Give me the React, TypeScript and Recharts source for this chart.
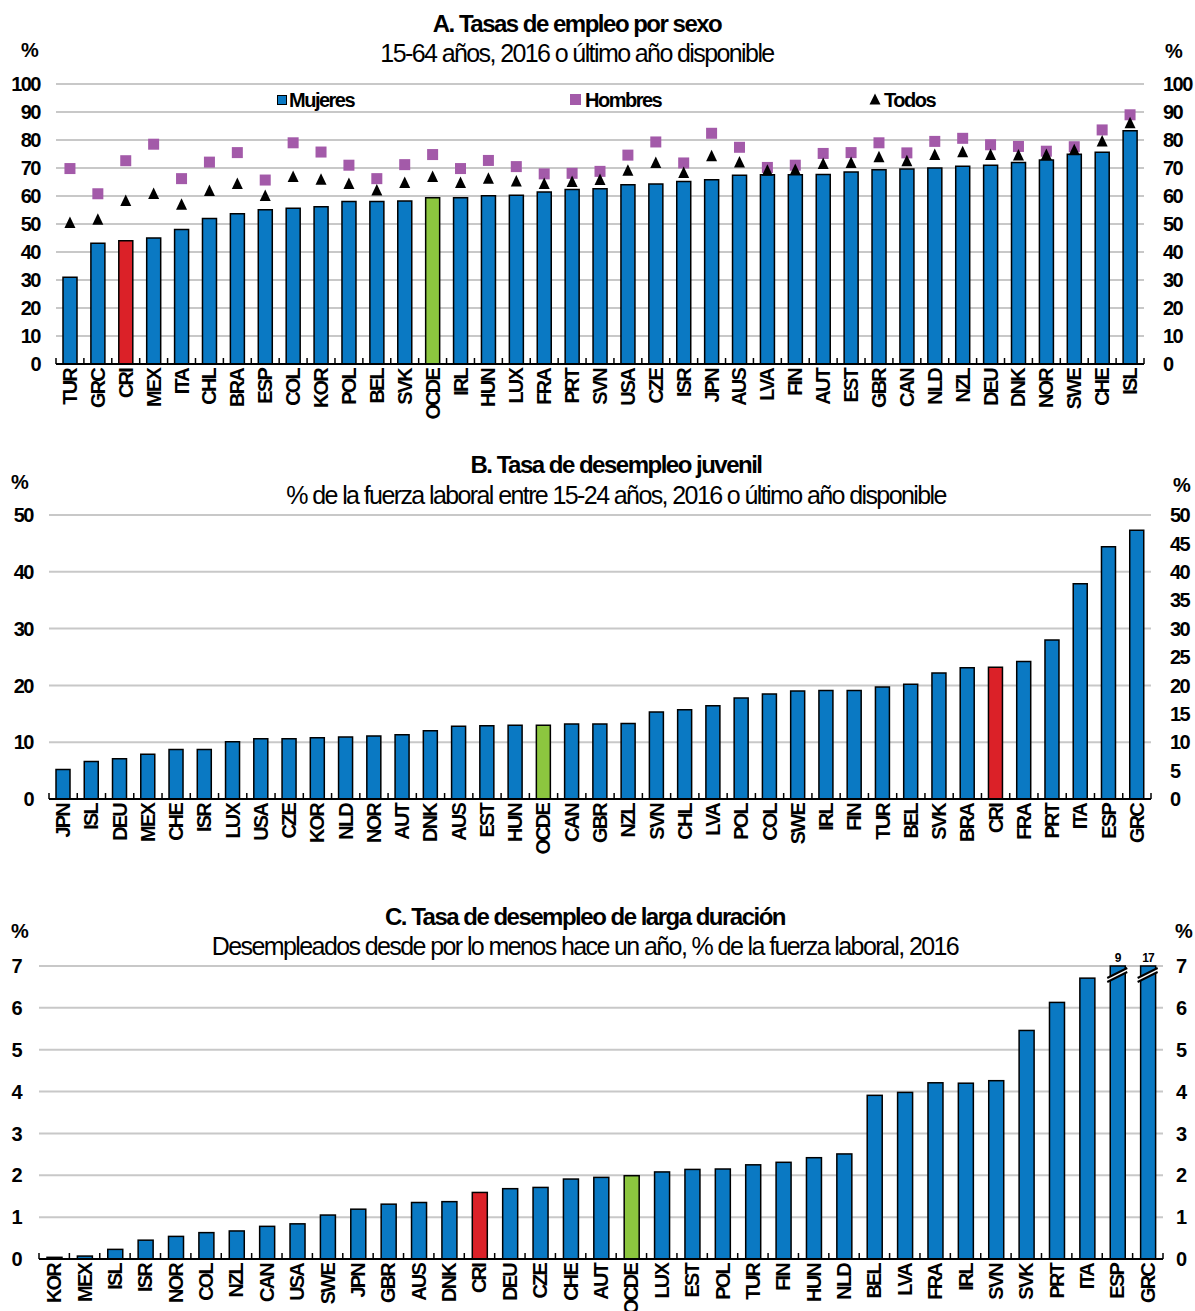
import React from 'react';
import { ComposedChart, Bar, Line, XAxis, YAxis, CartesianGrid, Cell, Legend } from 'recharts';

const FONT = '"Liberation Sans", Arial, Helvetica, sans-serif';
const BLUE = '#0A79C3';
const RED = '#DB2128';
const GREEN = '#8CC63F';
const PURPLE = '#A35AA9';
const GRID = '#C8C8C8';
const W = 1195;

// ---------- Panel A ----------
const catA = ['TUR', 'GRC', 'CRI', 'MEX', 'ITA', 'CHL', 'BRA', 'ESP', 'COL', 'KOR', 'POL', 'BEL', 'SVK', 'OCDE', 'IRL', 'HUN', 'LUX', 'FRA', 'PRT', 'SVN', 'USA', 'CZE', 'ISR', 'JPN', 'AUS', 'LVA', 'FIN', 'AUT', 'EST', 'GBR', 'CAN', 'NLD', 'NZL', 'DEU', 'DNK', 'NOR', 'SWE', 'CHE', 'ISL'];
const mujeres = [31, 43.1, 44, 45, 48, 52, 53.7, 55.1, 55.6, 56.2, 58, 58, 58.2, 59.4, 59.4, 60.1, 60.3, 61.4, 62.3, 62.6, 64, 64.3, 65.2, 65.8, 67.4, 67.6, 67.6, 67.7, 68.6, 69.4, 69.6, 70, 70.6, 71, 72, 72.9, 74.9, 75.6, 83.3];
const hombres = [69.8, 60.8, 72.6, 78.5, 66.2, 72.1, 75.5, 65.7, 79, 75.7, 71, 66.2, 71.2, 74.8, 69.8, 72.7, 70.5, 67.9, 68.1, 68.8, 74.6, 79.3, 71.8, 82.4, 77.4, 70.2, 71, 75.2, 75.5, 79, 75.4, 79.5, 80.6, 78.3, 77.7, 76, 77.6, 83.6, 89];
const todos = [50.4, 51.5, 58.2, 60.7, 56.9, 61.8, 64.3, 60, 66.8, 65.8, 64.3, 62, 64.6, 66.8, 64.6, 66.2, 65.2, 64.3, 65, 65.7, 69, 71.8, 68.2, 74.2, 72, 69, 69.3, 71.4, 71.8, 73.8, 72.4, 74.6, 75.6, 74.6, 74.5, 74.6, 76.3, 79.5, 86];
const ticksA = [0, 10, 20, 30, 40, 50, 60, 70, 80, 90, 100];

// ---------- Panel B ----------
const catB = ['JPN', 'ISL', 'DEU', 'MEX', 'CHE', 'ISR', 'LUX', 'USA', 'CZE', 'KOR', 'NLD', 'NOR', 'AUT', 'DNK', 'AUS', 'EST', 'HUN', 'OCDE', 'CAN', 'GBR', 'NZL', 'SVN', 'CHL', 'LVA', 'POL', 'COL', 'SWE', 'IRL', 'FIN', 'TUR', 'BEL', 'SVK', 'BRA', 'CRI', 'FRA', 'PRT', 'ITA', 'ESP', 'GRC'];
const juvenil = [5.2, 6.6, 7.1, 7.9, 8.7, 8.7, 10.1, 10.6, 10.6, 10.8, 10.9, 11.1, 11.3, 12.0, 12.8, 12.9, 13.0, 13.0, 13.2, 13.2, 13.3, 15.3, 15.7, 16.4, 17.8, 18.5, 19.0, 19.1, 19.1, 19.7, 20.2, 22.2, 23.1, 23.2, 24.2, 28.0, 37.9, 44.4, 47.3];
const ticksBLeft = [0, 10, 20, 30, 40, 50];
const ticksBRight = [0, 5, 10, 15, 20, 25, 30, 35, 40, 45, 50];

// ---------- Panel C ----------
const catC = ['KOR', 'MEX', 'ISL', 'ISR', 'NOR', 'COL', 'NZL', 'CAN', 'USA', 'SWE', 'JPN', 'GBR', 'AUS', 'DNK', 'CRI', 'DEU', 'CZE', 'CHE', 'AUT', 'OCDE', 'LUX', 'EST', 'POL', 'TUR', 'FIN', 'HUN', 'NLD', 'BEL', 'LVA', 'FRA', 'IRL', 'SVN', 'SVK', 'PRT', 'ITA', 'ESP', 'GRC'];
const largaDur = [0.04, 0.07, 0.23, 0.45, 0.54, 0.63, 0.67, 0.78, 0.84, 1.05, 1.19, 1.31, 1.35, 1.37, 1.59, 1.68, 1.71, 1.91, 1.95, 1.99, 2.08, 2.14, 2.15, 2.25, 2.31, 2.42, 2.51, 3.91, 3.98, 4.21, 4.2, 4.26, 5.46, 6.13, 6.71, 9, 17];
const capC = 7;
const ticksC = [0, 1, 2, 3, 4, 5, 6, 7];

const dataA = catA.map((c, i) => ({ c, m: mujeres[i], h: hombres[i], t: todos[i] }));
const dataB = catB.map((c, i) => ({ c, v: juvenil[i] }));
const dataC = catC.map((c, i) => ({ c, v: Math.min(largaDur[i], capC), actual: largaDur[i] }));

const barColor = (c: string) => (c === 'CRI' ? RED : c === 'OCDE' ? GREEN : BLUE);

function makeXTick(step: number) {
  return function XTick(props: any) {
    const { x, y, payload, index, visibleTicksCount } = props;
    const half = step / 2;
    const ty = y + 5;
    return (
      <g>
        <line x1={x - half} x2={x - half} y1={y} y2={y - 6} stroke="#000" strokeWidth={1.5} />
        {index === visibleTicksCount - 1 && (
          <line x1={x + half} x2={x + half} y1={y} y2={y - 6} stroke="#000" strokeWidth={1.5} />
        )}
        <text
          x={x}
          y={ty}
          transform={`rotate(-90 ${x} ${ty})`}
          textAnchor="end"
          dominantBaseline="central"
          fontFamily={FONT}
          fontWeight="bold"
          fontSize={20}
          letterSpacing={-1.8}
          fill="#000"
        >
          {payload.value}
        </text>
      </g>
    );
  };
}

function YTick(props: any) {
  const { x, y, payload, textAnchor } = props;
  return (
    <text x={x} y={y} dy="0.36em" textAnchor={textAnchor} fontFamily={FONT} fontWeight="bold" fontSize={20} letterSpacing={-1.5} fill="#000">
      {payload.value}
    </text>
  );
}

function SquareDot(props: any) {
  const { cx, cy, index } = props;
  if (cx == null || cy == null) return <g key={`s${index}`} />;
  return <rect key={`s${index}`} x={cx - 5.5} y={cy - 5.5} width={11} height={11} fill={PURPLE} />;
}

function TriDot(props: any) {
  const { cx, cy, index } = props;
  if (cx == null || cy == null) return <g key={`t${index}`} />;
  return <path key={`t${index}`} d={`M${cx},${cy - 6.5} L${cx + 5.5},${cy + 5} L${cx - 5.5},${cy + 5} Z`} fill="#000" />;
}

function LegendA() {
  const txt: React.CSSProperties = { position: 'absolute', top: 0, fontFamily: FONT, fontWeight: 'bold', fontSize: 20, letterSpacing: -1.5, lineHeight: '24px', color: '#000' };
  return (
    <div style={{ position: 'relative', width: W, height: 24 }}>
      <div style={{ position: 'absolute', left: 277, top: 7, width: 8, height: 8, background: BLUE, border: '1.5px solid #000' }} />
      <div style={{ ...txt, left: 289 }}>Mujeres</div>
      <div style={{ position: 'absolute', left: 570, top: 6, width: 11, height: 11, background: PURPLE }} />
      <div style={{ ...txt, left: 585 }}>Hombres</div>
      <svg style={{ position: 'absolute', left: 869, top: 5 }} width={12} height={12}>
        <path d="M6,0.5 L11.5,11.5 L0.5,11.5 Z" fill="#000" />
      </svg>
      <div style={{ ...txt, left: 884 }}>Todos</div>
    </div>
  );
}

function BreakBar(props: any) {
  const { x, y, width, height, payload, fill } = props;
  const actual = payload.actual;
  const els: any[] = [
    <rect key="r" x={x} y={y} width={width} height={height} fill={fill} stroke="#000" strokeWidth={1.5} />,
  ];
  if (actual > capC) {
    const top = y;
    const x1 = x - 3;
    const x2 = x + width + 2;
    const a1 = top + 12;
    const a2 = top + 2;
    const g = 4;
    els.push(
      <path key="w" d={`M${x1},${a1} L${x2},${a2} L${x2},${a2 + g} L${x1},${a1 + g} Z`} fill="#fff" />,
      <line key="l1" x1={x1} y1={a1} x2={x2} y2={a2} stroke="#000" strokeWidth={2} />,
      <line key="l2" x1={x1} y1={a1 + g} x2={x2} y2={a2 + g} stroke="#000" strokeWidth={2} />,
      <text key="t" x={x + width / 2} y={top - 4} textAnchor="middle" fontFamily={FONT} fontWeight="bold" fontSize={12} letterSpacing={-0.8} fill="#000">
        {actual}
      </text>,
    );
  }
  return <g>{els}</g>;
}

const titleStyle = { fontFamily: FONT, fill: '#000' };

export default function App() {
  const stepA = (1144 - 56) / catA.length;
  const stepB = (1151 - 49) / catB.length;
  const stepC = (1163 - 39) / catC.length;
  return (
    <div style={{ position: 'absolute', left: 0, top: 0, width: W, height: 1311, overflow: 'hidden', background: '#fff' }}>
      {/* Panel A */}
      <div style={{ position: 'absolute', left: 0, top: 0 }}>
        <ComposedChart width={W} height={440} data={dataA} margin={{ top: 84, right: 0, bottom: 0, left: 0 }} barSize={14}>
          <CartesianGrid yAxisId="left" vertical={false} stroke={GRID} strokeWidth={2} />
          <XAxis dataKey="c" interval={0} height={76} tickSize={0} tickMargin={0} axisLine={{ stroke: '#000', strokeWidth: 2 }} tick={makeXTick(stepA)} />
          <YAxis yAxisId="left" orientation="left" width={56} domain={[0, 100]} ticks={ticksA} axisLine={false} tickLine={false} tickSize={0} tickMargin={16} tick={YTick} />
          <YAxis yAxisId="right" orientation="right" width={51} domain={[0, 100]} ticks={ticksA} axisLine={false} tickLine={false} tickSize={0} tickMargin={19} tick={YTick} />
          <Legend layout="horizontal" verticalAlign="middle" align="center" wrapperStyle={{ position: 'absolute', top: 88, left: 0, width: W, height: 24 }} content={() => <LegendA />} />
          <Bar yAxisId="left" dataKey="m" name="Mujeres" stroke="#000" strokeWidth={1.5} isAnimationActive={false}>
            {dataA.map((d) => (
              <Cell key={d.c} fill={barColor(d.c)} />
            ))}
          </Bar>
          <Line yAxisId="right" dataKey="m" stroke="none" dot={false} activeDot={false} legendType="none" isAnimationActive={false} />
          <Line yAxisId="left" dataKey="h" name="Hombres" stroke="none" dot={SquareDot} activeDot={false} isAnimationActive={false} />
          <Line yAxisId="left" dataKey="t" name="Todos" stroke="none" dot={TriDot} activeDot={false} isAnimationActive={false} />
        </ComposedChart>
      </div>

      {/* Panel B */}
      <div style={{ position: 'absolute', left: 0, top: 440 }}>
        <ComposedChart width={W} height={430} data={dataB} margin={{ top: 75, right: 0, bottom: 0, left: 0 }} barSize={14}>
          <CartesianGrid yAxisId="left" vertical={false} stroke={GRID} strokeWidth={2} />
          <XAxis dataKey="c" interval={0} height={71} tickSize={0} tickMargin={0} axisLine={{ stroke: '#000', strokeWidth: 2 }} tick={makeXTick(stepB)} />
          <YAxis yAxisId="left" orientation="left" width={49} domain={[0, 50]} ticks={ticksBLeft} axisLine={false} tickLine={false} tickSize={0} tickMargin={16} tick={YTick} />
          <YAxis yAxisId="right" orientation="right" width={44} domain={[0, 50]} ticks={ticksBRight} axisLine={false} tickLine={false} tickSize={0} tickMargin={19} tick={YTick} />
          <Bar yAxisId="left" dataKey="v" stroke="#000" strokeWidth={1.5} isAnimationActive={false}>
            {dataB.map((d) => (
              <Cell key={d.c} fill={barColor(d.c)} />
            ))}
          </Bar>
          <Line yAxisId="right" dataKey="v" stroke="none" dot={false} activeDot={false} legendType="none" isAnimationActive={false} />
        </ComposedChart>
      </div>

      {/* Panel C */}
      <div style={{ position: 'absolute', left: 0, top: 880 }}>
        <ComposedChart width={W} height={431} data={dataC} margin={{ top: 86, right: 0, bottom: 0, left: 0 }} barSize={15}>
          <CartesianGrid yAxisId="left" vertical={false} stroke={GRID} strokeWidth={2} />
          <XAxis dataKey="c" interval={0} height={52} tickSize={0} tickMargin={0} axisLine={{ stroke: '#000', strokeWidth: 2 }} tick={makeXTick(stepC)} />
          <YAxis yAxisId="left" orientation="left" width={39} domain={[0, capC]} ticks={ticksC} axisLine={false} tickLine={false} tickSize={0} tickMargin={18} tick={YTick} />
          <YAxis yAxisId="right" orientation="right" width={32} domain={[0, capC]} ticks={ticksC} axisLine={false} tickLine={false} tickSize={0} tickMargin={13} tick={YTick} />
          <Bar yAxisId="left" dataKey="v" isAnimationActive={false} shape={BreakBar}>
            {dataC.map((d) => (
              <Cell key={d.c} fill={barColor(d.c)} />
            ))}
          </Bar>
          <Line yAxisId="right" dataKey="v" stroke="none" dot={false} activeDot={false} legendType="none" isAnimationActive={false} />
        </ComposedChart>
      </div>

      {/* Titles */}
      <svg style={{ position: 'absolute', left: 0, top: 0, pointerEvents: 'none' }} width={W} height={1311}>
        <g {...titleStyle}>
          <text x={577} y={32} textAnchor="middle" fontWeight="bold" fontSize={24} letterSpacing={-1.5}>A. Tasas de empleo por sexo</text>
          <text x={577} y={62} textAnchor="middle" fontSize={25} letterSpacing={-1.6}>15-64 años, 2016 o último año disponible</text>
          <text x={21} y={57} fontWeight="bold" fontSize={20} letterSpacing={-1}>%</text>
          <text x={1165} y={58} fontWeight="bold" fontSize={20} letterSpacing={-1}>%</text>

          <text x={616} y={473} textAnchor="middle" fontWeight="bold" fontSize={24} letterSpacing={-1.5}>B. Tasa de desempleo juvenil</text>
          <text x={616} y={504} textAnchor="middle" fontSize={25} letterSpacing={-1.6}>% de la fuerza laboral entre 15-24 años, 2016 o último año disponible</text>
          <text x={11} y={489} fontWeight="bold" fontSize={20} letterSpacing={-1}>%</text>
          <text x={1173} y={492} fontWeight="bold" fontSize={20} letterSpacing={-1}>%</text>

          <text x={585} y={925} textAnchor="middle" fontWeight="bold" fontSize={24} letterSpacing={-1.5}>C. Tasa de desempleo de larga duración</text>
          <text x={585} y={955} textAnchor="middle" fontSize={25} letterSpacing={-1.6}>Desempleados desde por lo menos hace un año, % de la fuerza laboral, 2016</text>
          <text x={11} y={938} fontWeight="bold" fontSize={20} letterSpacing={-1}>%</text>
          <text x={1175} y={938} fontWeight="bold" fontSize={20} letterSpacing={-1}>%</text>
        </g>
      </svg>
    </div>
  );
}
